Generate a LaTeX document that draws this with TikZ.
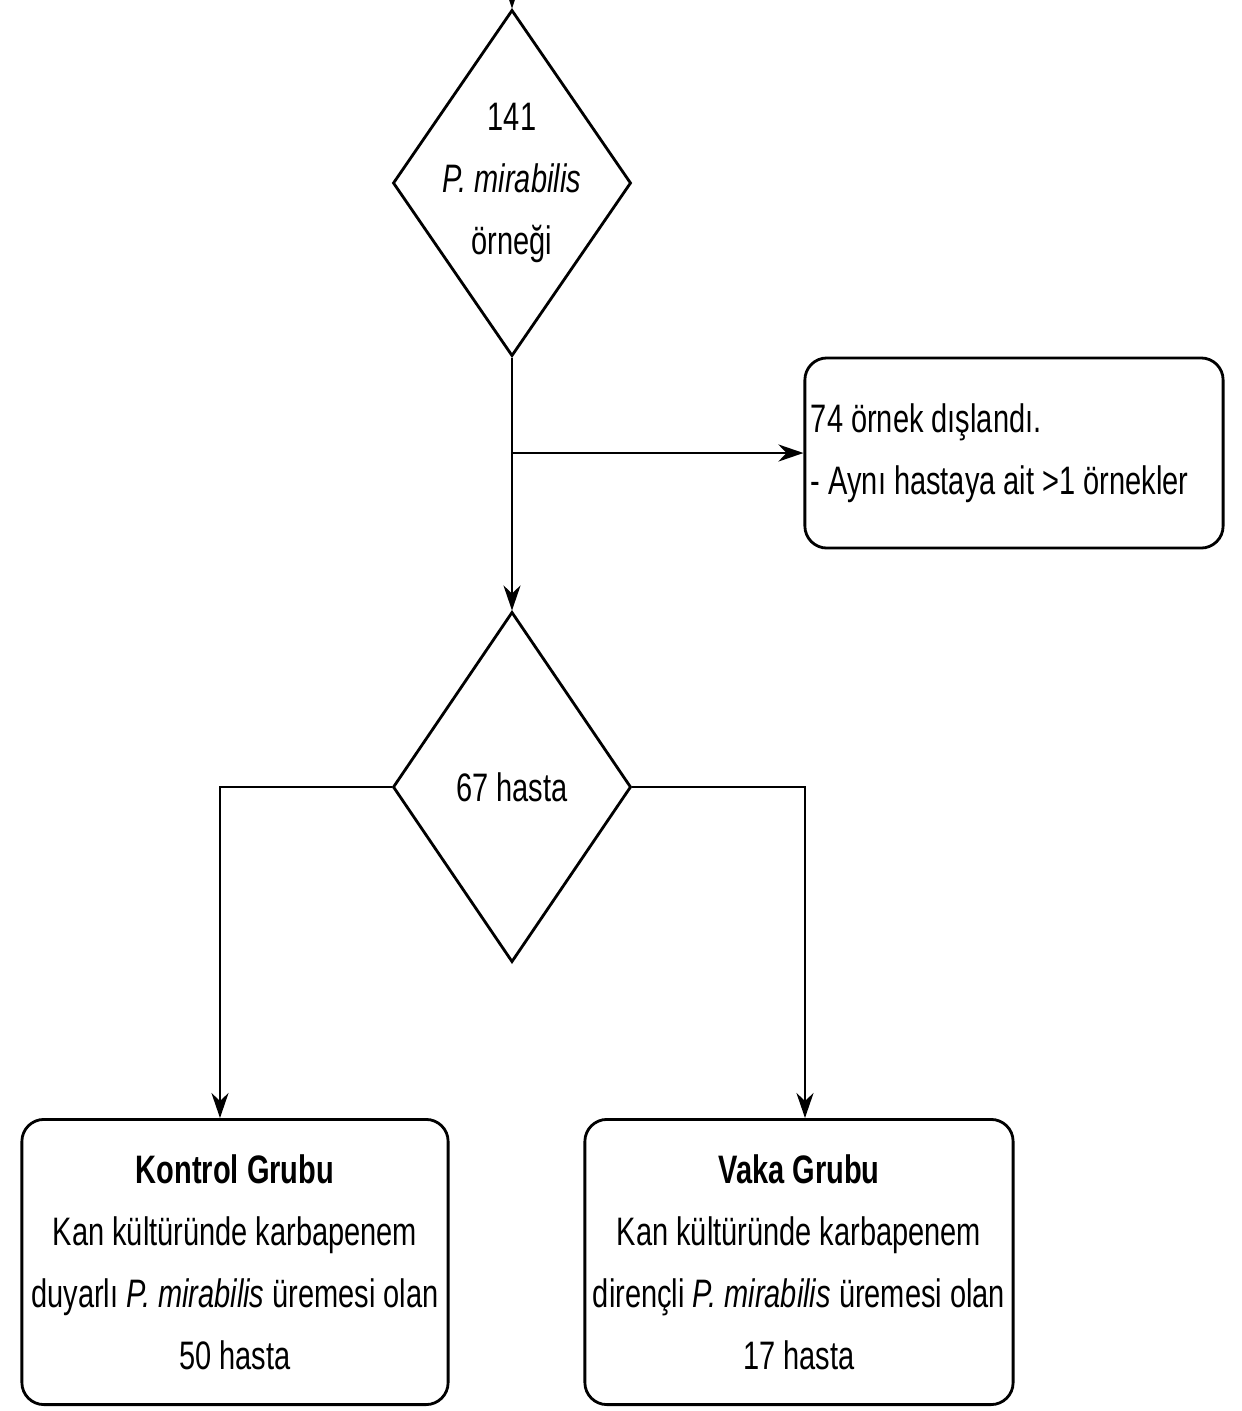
\documentclass[tikz,border=0pt]{standalone}
\usepackage{fontspec}
\setmainfont{Liberation Sans}[FakeStretch=0.73]
\usetikzlibrary{arrows.meta, positioning, shapes.geometric}

\begin{document}
\begin{tikzpicture}[
        x=0.01cm, y=-0.01cm,
        line width=0.8pt,
        every node/.style={font=\fontsize{11.3}{17.6}\selectfont},
        karar/.style={diamond, draw, minimum width=2.38cm, minimum height=3.46cm, inner sep=0pt},
        kutu/.style={rectangle, draw, rounded corners=0.22cm, inner sep=0pt},
        ok/.style={-{Stealth[length=0.25cm, width=0.17cm, inset=0.08cm]}}
    ]
        \useasboundingbox (0,0) rectangle (1241,1411);

        % Karar düğümleri
        \node [karar] (D1) at (512,183) {};
        \node [align=center] (D1t) at (D1.center) {141\\\textit{P. mirabilis}\\örneği};
        \node [karar, minimum height=3.50cm] (D2) at (512,787) {};
        \node (D2t) at (D2.center) {67 hasta};

        % Kutular
        \node [kutu, minimum width=4.18cm, minimum height=1.90cm, text width=4.06cm,
               inner xsep=0.06cm, align=flush left] (Disla) at (1014,453)
            {74 örnek dışlandı.\\- Aynı hastaya ait >1 örnekler};
        \node [kutu, minimum width=4.26cm, minimum height=2.85cm, align=center] (Kontrol) at (235,1262)
            {\textbf{Kontrol Grubu}\\Kan kültüründe karbapenem\\duyarlı \textit{P. mirabilis} üremesi olan\\50 hasta};
        \node [kutu, minimum width=4.28cm, minimum height=2.85cm, align=center] (Vaka) at (799,1262)
            {\textbf{Vaka Grubu}\\Kan kültüründe karbapenem\\dirençli \textit{P. mirabilis} üremesi olan\\17 hasta};

        % Bağlantılar
        \coordinate (giris) at (512,-40);
        \coordinate (ayrim) at (D1.south |- Disla.west);
        \draw [ok] (giris) -- (D1.north);
        \draw [ok] (D1.south) -- (D2.north);
        \draw [ok] (ayrim) -- (Disla.west);
        \draw [ok] (D2.west) -| ([xshift=-0.15cm]Kontrol.north);
        \draw [ok] (D2.east) -| ([xshift=0.06cm]Vaka.north);
    \end{tikzpicture}
\end{document}
